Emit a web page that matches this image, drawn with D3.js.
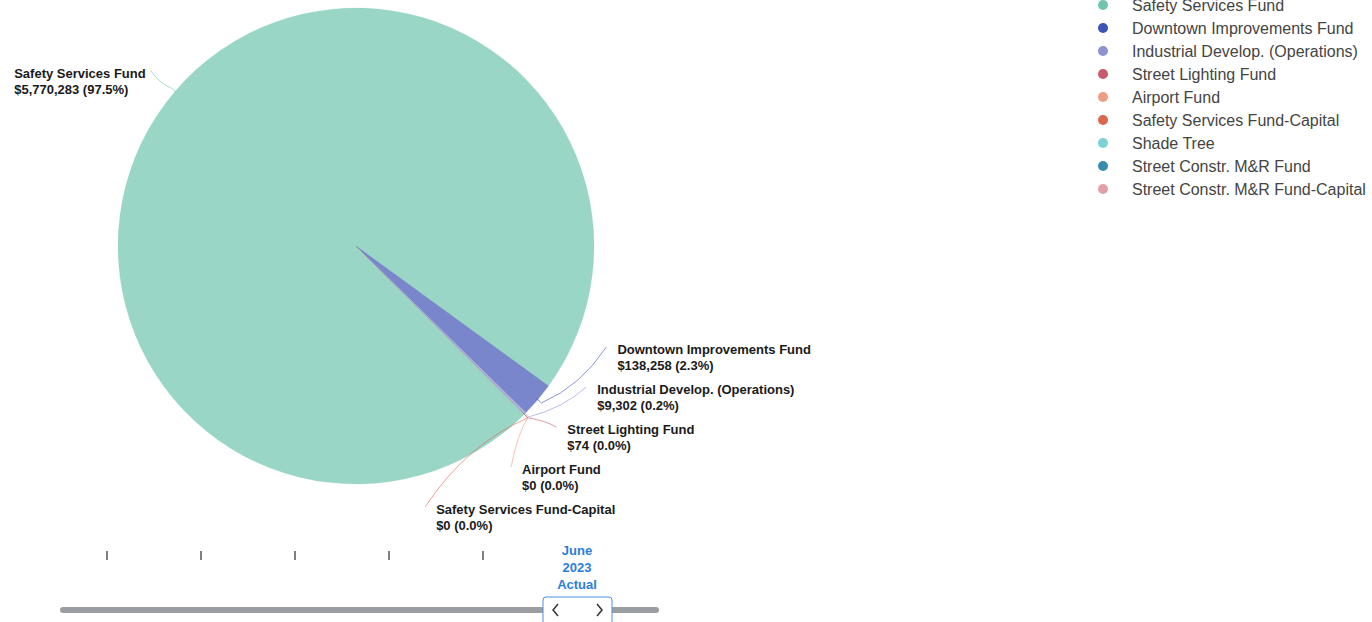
<!DOCTYPE html>
<html>
<head>
<meta charset="utf-8">
<script src="https://cdn.jsdelivr.net/npm/d3@7"></script>
<style>
  body { margin: 0; background: #fff; }
  svg { display: block; font-family: Arial, "Liberation Sans", sans-serif; }
</style>
</head>
<body>
<div id="chart"></div>
<script>
// fund names, amounts and colours
let funds = [
    "Safety Services Fund",
    "Downtown Improvements Fund",
    "Industrial Develop. (Operations)",
    "Street Lighting Fund",
    "Airport Fund",
    "Safety Services Fund-Capital",
    "Shade Tree",
    "Street Constr. M&R Fund",
    "Street Constr. M&R Fund-Capital"
];
let amounts = [5770283, 138258, 9302, 74, 0, 0, 0, 0, 0];
let colors = ["#6fc4ae", "#4152b6", "#8c93d2", "#c65b6d", "#eba084", "#dc6550", "#7fd0d4", "#3a8bb0", "#e2a0a5"];
// which slices get a data label
let labelled = [true, true, true, true, true, true, false, false, false];

// slider periods, only the current one has a visible caption
let periods = ["p1", "p2", "p3", "p4", "p5", "p6"];
let currentPeriod = "p6";
let currentCaption = ["June", "2023", "Actual"];

let svgWidth = 1372;
let svgHeight = 622;

let cx = 356, cy = 246, radius = 238;
let labelRadius = 270;

let svg = d3.select("#chart")
    .append("svg")
    .attr("width", svgWidth)
    .attr("height", svgHeight);

let total = d3.sum(amounts);
let data = funds.map((f, i) => ({ name: f, value: amounts[i], color: colors[i], label: labelled[i] }));

let pie = d3.pie()
    .sort(null)
    .value(d => d.value)
    .startAngle(Math.PI * 0.75)
    .endAngle(Math.PI * 2.75);

let arcs = pie(data);

let arc = d3.arc().innerRadius(0).outerRadius(radius);

let pieGroup = svg.append("g")
    .attr("transform", `translate(${cx},${cy})`);

pieGroup.selectAll("path.slice")
    .data(arcs.filter(a => a.value > 0))
    .enter()
    .append("path")
    .attr("class", "slice")
    .attr("d", arc)
    .attr("fill", d => d.data.color)
    .attr("fill-opacity", 0.7)
    .attr("stroke", d => d.data.color)
    .attr("stroke-opacity", 0.3)
    .attr("stroke-width", 0.5);

// point on a circle for a d3 angle
function polar(angle, r) {
    return [Math.sin(angle) * r, -Math.cos(angle) * r];
}

// data labels
let fmt = d3.format(",.0f");
let pct = d3.format(".1f");
let lbls = arcs.filter(a => a.data.label).map(a => {
    let mid = (a.startAngle + a.endAngle) / 2;
    let ideal = polar(mid, labelRadius);
    return { a: a, mid: mid, right: ideal[0] > 0, y: ideal[1] };
});

// spread right side labels around their mean, keep them above the bottom limit
let rightLbls = lbls.filter(l => l.right);
let step = 40, bottomY = 261;
let meanY = d3.mean(rightLbls, l => l.y);
let n = rightLbls.length;
let shift = Math.min(0, bottomY - (meanY + (n - 1) / 2 * step));
rightLbls.forEach((l, i) => {
    l.y = meanY + (i - (n - 1) / 2) * step + shift;
});

let labelGroup = pieGroup.append("g");

lbls.forEach(l => {
    let dx = Math.sqrt(Math.max(labelRadius * labelRadius - l.y * l.y, 0));
    let ex = l.right ? dx : -dx;
    let p0 = polar(l.mid, radius - 2);
    let p1 = polar(l.mid, radius + 5);
    labelGroup.append("path")
        .attr("d", `M${p0[0]},${p0[1]} L${p1[0]},${p1[1]} Q${p1[0] + (ex - p1[0]) * 0.6},${p1[1] + (l.y - p1[1]) * 0.3} ${ex},${l.y}`)
        .attr("fill", "none")
        .attr("stroke", l.a.data.color)
        .attr("stroke-opacity", 0.6)
        .attr("stroke-width", 1);

    let t = labelGroup.append("text")
        .attr("font-size", "13px")
        .attr("font-weight", "bold")
        .attr("fill", "#1a1a1a");
    t.append("tspan").attr("x", 0).attr("y", l.y + 7).text(l.a.data.name);
    t.append("tspan").attr("x", 0).attr("y", l.y + 23)
        .text("$" + fmt(l.a.value) + " (" + pct(l.a.value / total * 100) + "%)");
    let w = t.node().getBBox().width;
    let tx = l.right ? ex + 11 : ex - 5 - w;
    t.selectAll("tspan").attr("x", tx);
});

// legend
let legend = svg.append("g")
    .attr("transform", "translate(1103,5)");

let legendY = d3.scaleBand()
    .domain(funds)
    .range([0, funds.length * 23]);

let items = legend.selectAll("g")
    .data(data)
    .enter()
    .append("g")
    .attr("transform", d => `translate(0,${legendY(d.name)})`);

items.append("circle")
    .attr("r", 5)
    .attr("fill", d => d.color);

items.append("text")
    .attr("x", 29)
    .attr("y", 6)
    .attr("font-size", "16px")
    .attr("fill", "#444")
    .text(d => d.name);

// period slider
let slider = svg.append("g");
let px = d3.scalePoint().domain(periods).range([107, 577]);

slider.append("line")
    .attr("x1", 63).attr("x2", 656)
    .attr("y1", 610).attr("y2", 610)
    .attr("stroke", "#9a9ea3")
    .attr("stroke-width", 6)
    .attr("stroke-linecap", "round");

slider.selectAll("line.tick")
    .data(periods.filter(p => p !== currentPeriod))
    .enter()
    .append("line")
    .attr("class", "tick")
    .attr("x1", d => px(d)).attr("x2", d => px(d))
    .attr("y1", 551).attr("y2", 560)
    .attr("stroke", "#555")
    .attr("stroke-width", 1.5);

slider.append("text")
    .attr("text-anchor", "middle")
    .attr("font-size", "13px")
    .attr("font-weight", "bold")
    .attr("fill", "#2b7de0")
    .selectAll("tspan")
    .data(currentCaption)
    .enter()
    .append("tspan")
    .attr("x", px(currentPeriod))
    .attr("y", (d, i) => 555 + i * 17)
    .text(d => d);

let hx = px(currentPeriod);
slider.append("rect")
    .attr("x", hx - 34).attr("y", 597)
    .attr("width", 69).attr("height", 34)
    .attr("rx", 3)
    .attr("fill", "#fff")
    .attr("stroke", "#4a8fe0")
    .attr("stroke-width", 1);

slider.append("path")
    .attr("d", `M${hx - 19},${604} L${hx - 24},${610} L${hx - 19},${616}`)
    .attr("fill", "none").attr("stroke", "#333").attr("stroke-width", 1.5);
slider.append("path")
    .attr("d", `M${hx + 20},${604} L${hx + 25},${610} L${hx + 20},${616}`)
    .attr("fill", "none").attr("stroke", "#333").attr("stroke-width", 1.5);
</script>
</body>
</html>
